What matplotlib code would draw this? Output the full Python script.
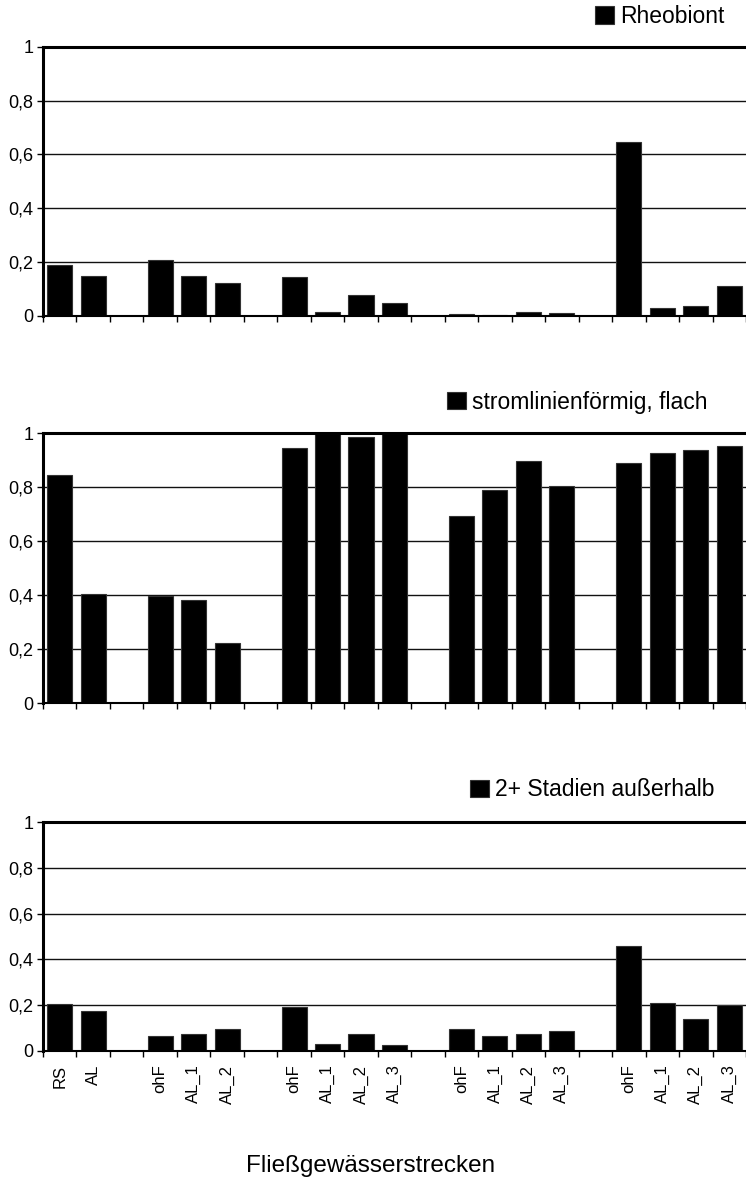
import matplotlib
matplotlib.use("Agg")
import matplotlib.pyplot as plt
import numpy as np

plt.rcParams['font.family'] = ['Liberation Sans', 'DejaVu Sans']

# categories along the x axis (empty strings are the gaps between groups)
categories = ["RS", "AL", "", "ohF", "AL_1", "AL_2", "", "ohF", "AL_1", "AL_2", "AL_3",
              "", "ohF", "AL_1", "AL_2", "AL_3", "", "ohF", "AL_1", "AL_2", "AL_3"]

rheobiont = [0.19, 0.148, 0, 0.207, 0.148, 0.123, 0, 0.143, 0.015, 0.078, 0.049,
             0, 0.007, 0.003, 0.016, 0.01, 0, 0.646, 0.031, 0.038, 0.111]
stromlinien = [0.845, 0.406, 0, 0.396, 0.381, 0.225, 0, 0.946, 1.0, 0.986, 1.0,
               0, 0.695, 0.789, 0.897, 0.806, 0, 0.89, 0.927, 0.939, 0.954]
stadien = [0.205, 0.175, 0, 0.064, 0.074, 0.093, 0, 0.191, 0.029, 0.072, 0.025,
           0, 0.097, 0.064, 0.073, 0.086, 0, 0.458, 0.211, 0.138, 0.202]

series_names = ["Rheobiont", "stromlinienförmig, flach", "2+ Stadien außerhalb"]
yticks = [0, 0.2, 0.4, 0.6, 0.8, 1.0]
ytick_labels = ["0", "0,2", "0,4", "0,6", "0,8", "1"]

W, H = 746, 1178
fig = plt.figure(figsize=(W / 100, H / 100), dpi=100)

# axes boxes in pixels: (top, bottom)
boxes = [(46.7, 316.0), (433.3, 703.3), (822.3, 1050.7)]
legend_pos = [(725, 16.5), (708, 402), (715, 790)]
left_px = 43

x = np.arange(len(categories))
for k, (data, name) in enumerate(zip([rheobiont, stromlinien, stadien], series_names)):
    top, bottom = boxes[k]
    ax = fig.add_axes([left_px / W, 1 - bottom / H, (W - left_px) / W, (bottom - top) / H])
    bars = ax.bar(x, data, width=0.75, color='black', edgecolor='#333333',
                  linewidth=0.8, label=name, zorder=3)
    ax.set_xlim(-0.5, len(categories) - 0.5)
    ax.set_ylim(0, 1)
    ax.set_yticks(yticks)
    ax.set_yticklabels(ytick_labels)
    for yv in yticks[1:-1]:
        ax.axhline(yv, color='#111111', linewidth=1.0, zorder=1)

    ax.spines['right'].set_visible(False)
    ax.spines['top'].set_linewidth(2.2)
    ax.spines['left'].set_linewidth(2.2)
    ax.spines['bottom'].set_linewidth(1.5)
    for s in ax.spines.values():
        s.set_color('black')
        s.set_zorder(4)

    # tick marks at category boundaries, labels at the centres
    ax.set_xticks(np.arange(len(categories) + 1) - 0.5)
    ax.set_xticklabels([])
    ax.tick_params(axis='x', which='major', direction='out', length=4.5, width=1, color='black')
    ax.tick_params(axis='y', direction='out', length=4, width=1, pad=3, labelsize=13)
    if k == 2:
        ax.set_xticks(x, minor=True)
        ax.set_xticklabels(categories, minor=True, rotation=90, fontsize=12)
        ax.tick_params(axis='x', which='minor', length=0, pad=10)

    lx, ly = legend_pos[k]
    ax.legend(handles=[bars], loc='center right', bbox_to_anchor=(lx / W, 1 - ly / H),
              bbox_transform=fig.transFigure, frameon=False, fontsize=16.5,
              handlelength=0.8, handleheight=0.8, handletextpad=0.3,
              borderpad=0, borderaxespad=0)

fig.text(0.497, 1 - 1172 / H, "Fließgewässerstrecken", ha='center', va='baseline', fontsize=17.5)

fig.savefig("out.png", dpi=100)
